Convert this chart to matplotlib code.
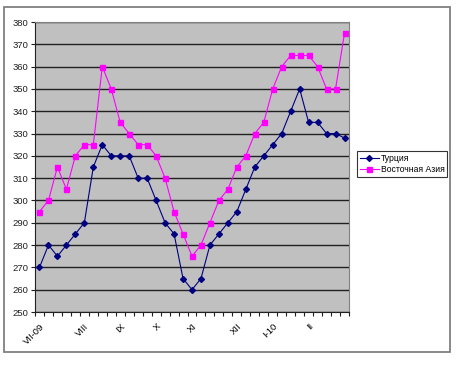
import numpy as np
import matplotlib
matplotlib.use('Agg')
from matplotlib import pyplot as plt
from matplotlib.patches import Rectangle

plt.rcParams['font.family'] = ['Liberation Sans', 'DejaVu Sans']

### data
turkey = [270, 280, 275, 280, 285, 290, 315, 325, 320, 320, 320, 310, 310, 300,
          290, 285, 265, 260, 265, 280, 285, 290, 295, 305, 315, 320, 325, 330,
          340, 350, 335, 335, 330, 330, 328]
east_asia = [295, 300, 315, 305, 320, 325, 325, 360, 350, 335, 330, 325, 325, 320,
             310, 295, 285, 275, 280, 290, 300, 305, 315, 320, 330, 335, 350, 360,
             365, 365, 365, 360, 350, 350, 375]
month_pos = [0, 5, 9, 13, 17, 22, 26, 30]
month_labels = ['VII-09', 'VIII', 'IX', 'X', 'XI', 'XII', 'I-10', 'II']
series_names = ['Турция', 'Восточная Азия']

n = len(turkey)
xs = np.arange(n)

fig = plt.figure(figsize=(4.59, 3.65), dpi=100)
W, H = 459.0, 365.0

# outer chart frame
fig.add_artist(Rectangle((4 / W, 1 - 352 / H), 446 / W, 345 / H,
                         transform=fig.transFigure, fill=False,
                         edgecolor='#808080', lw=1.3))

ax = fig.add_axes([35 / W, 1 - 312 / H, 314 / W, 290 / H])
ax.set_facecolor('#C0C0C0')

ax.plot(xs, turkey, color='#000080', marker='D', markersize=3, lw=0.8,
        label=series_names[0])
ax.plot(xs, east_asia, color='#FF00FF', marker='s', markersize=3.6, lw=0.8,
        label=series_names[1])

ax.set_xlim(-0.5, n - 0.5)
ax.set_ylim(250, 380)
ax.set_yticks(np.arange(250, 381, 10))
ax.yaxis.grid(True, color='#202020', lw=1)
ax.set_axisbelow(True)
ax.tick_params(axis='y', labelsize=6.8, length=3, width=0.8, pad=2,
               colors='#202020')

ax.set_xticks(month_pos)
ax.set_xticklabels(month_labels, rotation=45, ha='right', va='top',
                   rotation_mode='anchor', fontsize=6.8)
ax.set_xticks(np.arange(-0.5, n, 1.0), minor=True)
ax.tick_params(axis='x', which='major', length=0, pad=7)
ax.tick_params(axis='x', which='minor', length=3, width=0.8, color='#202020')

for s in ['top', 'right']:
    ax.spines[s].set_color('#808080')
for s in ['left', 'bottom']:
    ax.spines[s].set_color('#202020')
for s in ax.spines.values():
    s.set_linewidth(0.8)

leg = fig.legend(loc='upper left', bbox_to_anchor=(357 / W, 1 - 151 / H),
                 fontsize=6.2, frameon=True, fancybox=False, borderaxespad=0,
                 handlelength=2.3, borderpad=0.3, labelspacing=0.3,
                 handletextpad=0.15)
leg.get_frame().set_edgecolor('black')
leg.get_frame().set_linewidth(0.8)

fig.savefig('out.png', dpi=100)
